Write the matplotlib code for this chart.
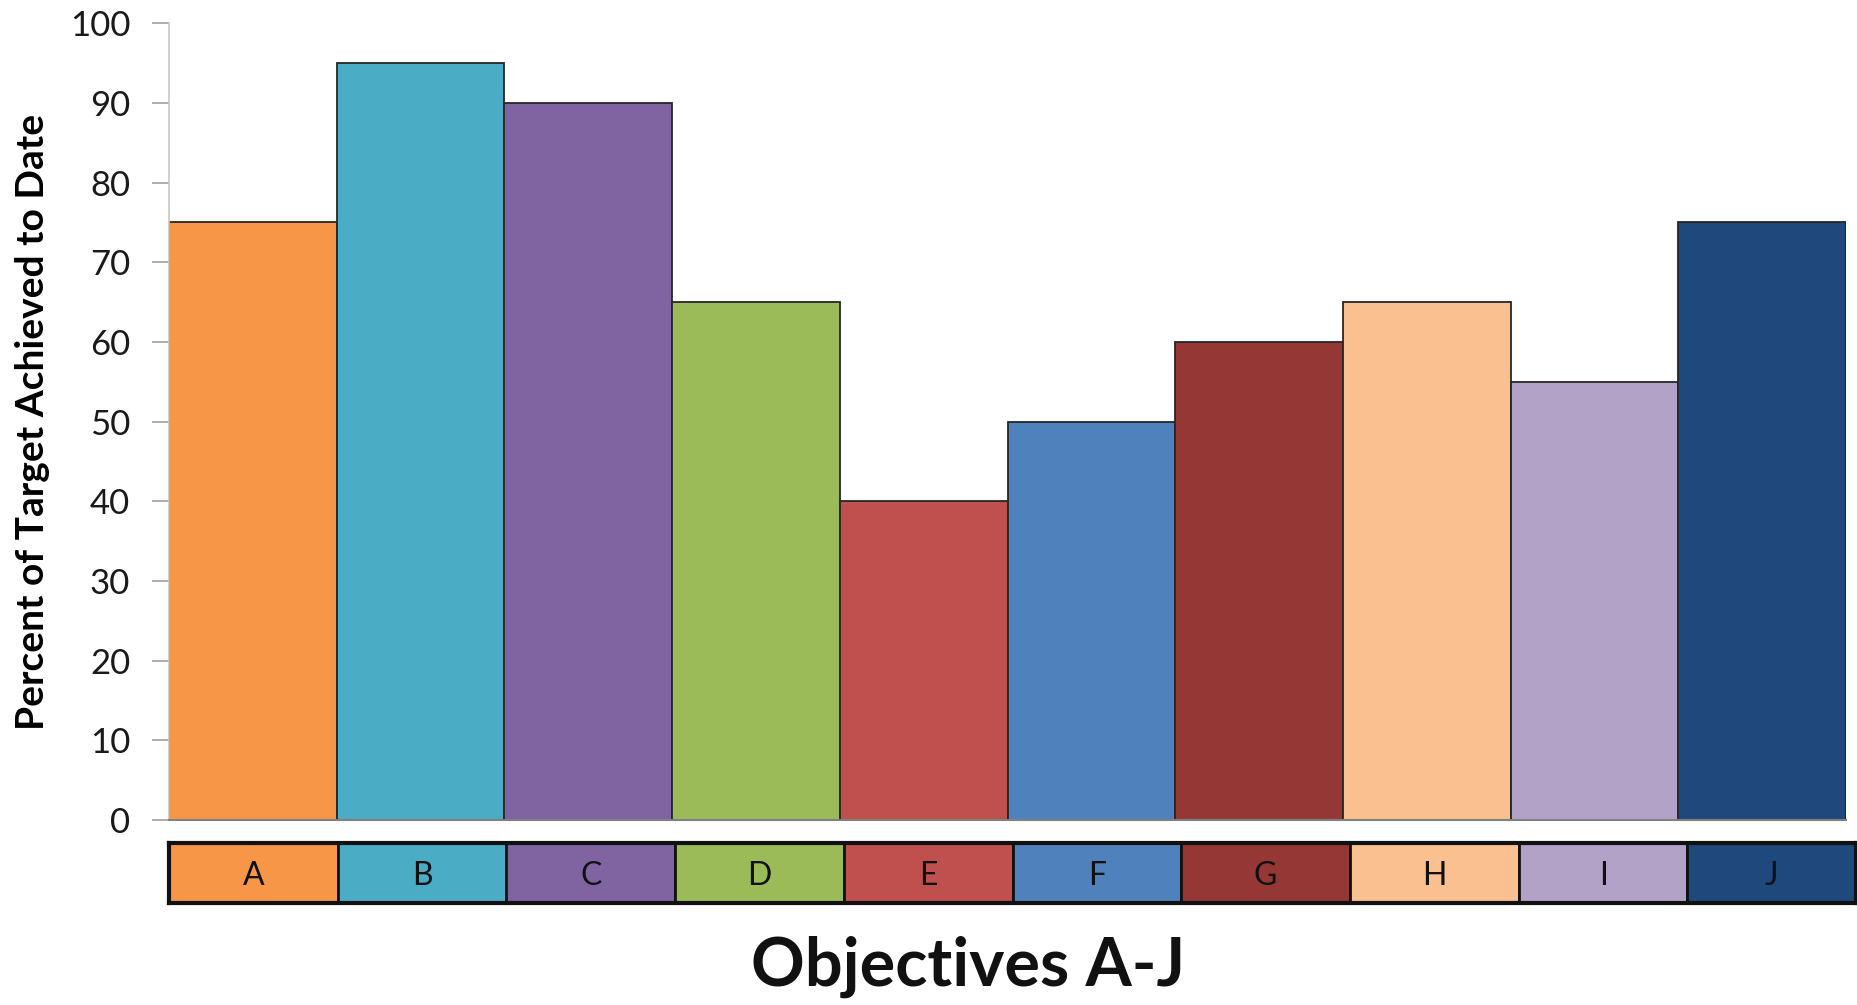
import matplotlib
matplotlib.use("Agg")
import matplotlib.pyplot as plt

categories = ["A", "B", "C", "D", "E", "F", "G", "H", "I", "J"]
values = [75, 95, 90, 65, 40, 50, 60, 65, 55, 75]
colors = ["#F79646", "#4BACC6", "#8064A2", "#9BBB59", "#C0504D",
          "#4F81BD", "#953735", "#FAC090", "#B3A2C7", "#1F497D"]
yticks = [0, 10, 20, 30, 40, 50, 60, 70, 80, 90, 100]

plt.rcParams['font.family'] = ['Lato', 'DejaVu Sans']

fig = plt.figure(figsize=(18.58, 10.05), dpi=100)
ax = fig.add_axes([0.091, 0.184, 0.9026, 0.793])
x = list(range(len(categories)))
ax.bar(x, values, width=1.0, align='edge', color=colors,
       edgecolor='#262626', linewidth=1.3)
ax.set_xlim(0, len(categories))
ax.set_ylim(0, 100)
ax.set_yticks(yticks)
ax.set_yticklabels([str(t) for t in yticks], fontsize=25, color='#1a1a1a')
ax.tick_params(axis='y', length=12, width=1.2, color='#a0a0a0', pad=16)
ax.set_xticks([])
for s in ['top', 'right']:
    ax.spines[s].set_visible(False)
ax.spines['left'].set_color('#c8c8c8')
ax.spines['left'].set_linewidth(1.2)
ax.spines['bottom'].set_color('#808080')
ax.spines['bottom'].set_linewidth(1.5)
ax.set_ylabel("Percent of Target Achieved to Date", fontsize=28,
              fontweight='bold', labelpad=14)

sax = fig.add_axes([0.091, 0.1015, 0.908, 0.0597])
sax.bar(x, [1] * len(categories), width=1.0, align='edge', color=colors,
        edgecolor='#111111', linewidth=2)
for i, c in enumerate(categories):
    sax.text(i + 0.5, 0.45, c, ha='center', va='center', fontsize=23,
             color='#111111')
sax.set_xlim(0, len(categories))
sax.set_ylim(0, 1)
sax.set_xticks([])
sax.set_yticks([])
for s in sax.spines.values():
    s.set_linewidth(3)
    s.set_color('#111111')

fig.text(0.521, 0.038, "Objectives A-J", ha='center', va='center',
         fontsize=48, fontweight='bold', color='#111111')

fig.savefig("out.png", dpi=100)
